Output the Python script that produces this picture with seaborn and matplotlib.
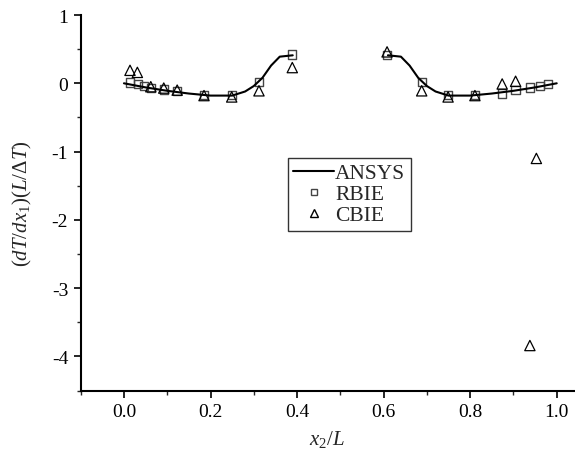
import numpy as np
import pandas as pd
import seaborn as sns
import matplotlib.pyplot as plt
from matplotlib.lines import Line2D
from matplotlib.ticker import MultipleLocator

# ANSYS reference curve (two pieces, gap in the middle)
ansys_x_left = [0.0, 0.05, 0.10, 0.15, 0.20, 0.25, 0.28, 0.30, 0.32, 0.34, 0.36, 0.39]
ansys_y_left = [0.0, -0.06, -0.11, -0.15, -0.18, -0.18, -0.12, -0.04, 0.08, 0.26, 0.39, 0.41]
ansys_x_right = [0.61, 0.64, 0.66, 0.68, 0.70, 0.72, 0.75, 0.80, 0.85, 0.90, 0.95, 1.0]
ansys_y_right = [0.41, 0.39, 0.26, 0.08, -0.04, -0.12, -0.18, -0.18, -0.15, -0.11, -0.06, 0.0]

# RBIE points
rbie_x = [0.014, 0.032, 0.046, 0.062, 0.092, 0.123, 0.185, 0.249, 0.312, 0.389,
          0.608, 0.688, 0.749, 0.811, 0.874, 0.905, 0.938, 0.961, 0.980]
rbie_y = [0.01, -0.01, -0.04, -0.07, -0.09, -0.11, -0.17, -0.17, 0.02, 0.42,
          0.41, 0.02, -0.17, -0.17, -0.15, -0.10, -0.06, -0.04, -0.01]

# CBIE points
cbie_x = [0.014, 0.031, 0.062, 0.092, 0.123, 0.185, 0.249, 0.312, 0.389,
          0.608, 0.688, 0.749, 0.811, 0.874, 0.905, 0.938, 0.953]
cbie_y = [0.19, 0.16, -0.05, -0.07, -0.10, -0.18, -0.20, -0.11, 0.23,
          0.46, -0.11, -0.20, -0.18, -0.01, 0.03, -3.84, -1.10]

sns.set_style('ticks')
plt.rcParams['font.family'] = ['Liberation Serif', 'DejaVu Serif']
plt.rcParams['mathtext.fontset'] = 'custom'
plt.rcParams['mathtext.rm'] = 'Liberation Serif'
plt.rcParams['mathtext.it'] = 'Liberation Serif:italic'

ansys = pd.DataFrame({
    'x': ansys_x_left + ansys_x_right,
    'y': ansys_y_left + ansys_y_right,
    'seg': [0] * len(ansys_x_left) + [1] * len(ansys_x_right),
})
rbie = pd.DataFrame({'x': rbie_x, 'y': rbie_y})
cbie = pd.DataFrame({'x': cbie_x, 'y': cbie_y})

fig = plt.figure(figsize=(5.75, 4.6), dpi=100)
ax = fig.add_axes([0.1403, 0.1487, 0.858, 0.8165])

sns.lineplot(data=ansys, x='x', y='y', units='seg', estimator=None,
             color='black', linewidth=1.5, ax=ax, legend=False)
sns.scatterplot(data=rbie, x='x', y='y', marker='s', s=36,
                facecolor='none', edgecolor='#444444', linewidth=1.0, ax=ax)
sns.scatterplot(data=cbie, x='x', y='y', marker='^', s=55,
                facecolor='none', edgecolor='black', linewidth=0.9, ax=ax)

ax.set_xlim(-0.1, 1.04)
ax.set_ylim(-4.5, 1)
ax.xaxis.set_minor_locator(MultipleLocator(0.1))
ax.yaxis.set_minor_locator(MultipleLocator(0.5))
ax.set_xticks([0.0, 0.2, 0.4, 0.6, 0.8, 1.0])
ax.set_xticklabels(['0.0', '0.2', '0.4', '0.6', '0.8', '1.0'])
ax.set_yticks([1, 0, -1, -2, -3, -4])
ax.set_yticklabels(['1', '0', '-1', '-2', '-3', '-4'])
ax.tick_params(which='major', direction='out', length=5, width=1.2, labelsize=14,
               colors='black', pad=4)
ax.tick_params(which='minor', direction='out', length=3, width=1.0)

sns.despine(ax=ax)
for side in ['left', 'bottom']:
    ax.spines[side].set_linewidth(1.5)
    ax.spines[side].set_color('black')

ax.set_xlabel(r'$x_2/L$', fontsize=15, labelpad=6)
ax.set_ylabel(r'$(dT/dx_1)(L/\Delta T)$', fontsize=15, labelpad=13)

handles = [
    Line2D([], [], color='black', linewidth=1.5),
    Line2D([], [], marker='s', linestyle='none', markersize=4.5, markerfacecolor='none',
           markeredgecolor='#444444'),
    Line2D([], [], marker='^', linestyle='none', markersize=5.5, markerfacecolor='none',
           markeredgecolor='black'),
]
leg = ax.legend(handles, ['ANSYS', 'RBIE', 'CBIE'], loc='upper left',
                bbox_to_anchor=(0.42, 0.62), fontsize=15.5, frameon=True, fancybox=False,
                edgecolor='black', handlelength=1.9, handletextpad=0.05,
                borderpad=0.25, labelspacing=0.05, borderaxespad=0)
leg.get_frame().set_linewidth(1.0)

fig.savefig('out.png', dpi=100)
